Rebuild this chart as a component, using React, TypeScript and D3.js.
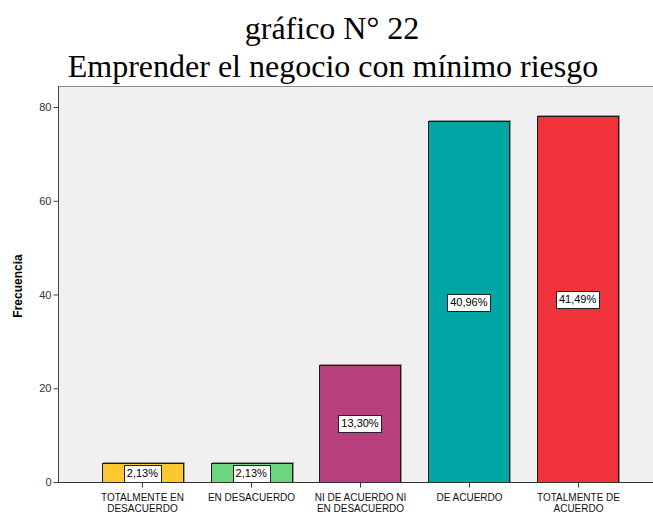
import * as d3 from 'd3';
import { useEffect, useRef } from 'react';

// data
const categories = [
  ['TOTALMENTE EN', 'DESACUERDO'],
  ['EN DESACUERDO'],
  ['NI DE ACUERDO NI', 'EN DESACUERDO'],
  ['DE ACUERDO'],
  ['TOTALMENTE DE', 'ACUERDO'],
];
const frecuencia = [4, 4, 25, 77, 78];
const porcentajes = ['2,13%', '2,13%', '13,30%', '40,96%', '41,49%'];
const colores = ['#fdc82f', '#6bd67d', '#b8407e', '#00a6a3', '#f0333b'];
const yTicks = [0, 20, 40, 60, 80];

export default function App() {
  const svgRef = useRef<SVGSVGElement>(null);

  useEffect(() => {
    const w = 653;
    const h = 514;
    const svg = d3.select(svgRef.current);
    svg.selectAll('*').remove();
    svg.attr('width', w).attr('height', h).style('display', 'block');

    const left = 58, right = 653, top = 86, bottom = 482;

    // titles
    svg.append('text')
      .attr('x', 332).attr('y', 39)
      .attr('text-anchor', 'middle')
      .style('font', "32px 'Liberation Serif', 'Times New Roman', serif")
      .text('gráfico N° 22');
    svg.append('text')
      .attr('x', 333).attr('y', 77)
      .attr('text-anchor', 'middle')
      .style('font', "32px 'Liberation Serif', 'Times New Roman', serif")
      .text('Emprender el negocio con mínimo riesgo');

    // plot background
    svg.append('rect')
      .attr('x', left).attr('y', top)
      .attr('width', right - left).attr('height', bottom - top)
      .attr('fill', '#f0f0f0');
    svg.append('line')
      .attr('x1', left).attr('x2', right).attr('y1', top + 0.5).attr('y2', top + 0.5)
      .attr('stroke', '#8a8a8a');

    const xScale = d3.scaleBand<number>()
      .domain(d3.range(categories.length))
      .range([88, 632])
      .paddingInner(0.255)
      .paddingOuter(0.1275);

    const yScale = d3.scaleLinear()
      .domain([0, 80])
      .range([bottom, 107]);

    // bars with slight shadow
    const g = svg.append('g');
    g.selectAll('rect.shadow')
      .data(frecuencia)
      .enter().append('rect')
      .attr('class', 'shadow')
      .attr('x', (_, i) => Math.round(xScale(i)!) + 1.5)
      .attr('y', d => Math.round(yScale(d)) - 0.5)
      .attr('width', Math.round(xScale.bandwidth()))
      .attr('height', d => Math.round(yScale(0)) - Math.round(yScale(d)))
      .attr('fill', 'none')
      .attr('stroke', '#9a9a9a')
      .attr('stroke-width', 1);
    g.selectAll('rect.bar')
      .data(frecuencia)
      .enter().append('rect')
      .attr('class', 'bar')
      .attr('x', (_, i) => Math.round(xScale(i)!) + 0.5)
      .attr('y', d => Math.round(yScale(d)) + 0.5)
      .attr('width', Math.round(xScale.bandwidth()))
      .attr('height', d => Math.round(yScale(0)) - Math.round(yScale(d)))
      .attr('fill', (_, i) => colores[i])
      .attr('stroke', '#1a1a1a')
      .attr('stroke-width', 1);

    // percentage labels
    const lab = svg.append('g');
    frecuencia.forEach((d, i) => {
      const cx = xScale(i)! + xScale.bandwidth() / 2;
      const cy = yScale(d / 2);
      const t = lab.append('text')
        .attr('x', cx).attr('y', cy + 4)
        .attr('text-anchor', 'middle')
        .style('font', "11px 'Liberation Sans', Arial, sans-serif")
        .attr('fill', '#000')
        .text(porcentajes[i]);
      const bw = (t.node() as SVGTextElement).getComputedTextLength() + 6;
      lab.insert('rect', 'text')
        .attr('x', Math.round(cx - bw / 2) + 0.5)
        .attr('y', Math.round(cy - 8) + 0.5)
        .attr('width', Math.round(bw))
        .attr('height', 17)
        .attr('fill', '#fff')
        .attr('stroke', '#222');
      lab.append(() => t.node());
    });

    // y axis
    const yAxis = d3.axisLeft(yScale).tickValues(yTicks).tickSize(5).tickPadding(2);
    const ya = svg.append('g')
      .attr('transform', `translate(${left + 0.5},0)`)
      .call(yAxis);
    ya.select('.domain').attr('d', `M0,${top}V${bottom}`).attr('stroke', '#444');
    ya.selectAll('.tick line').attr('stroke', '#444');
    ya.selectAll('.tick text')
      .style('font', "11px 'Liberation Sans', Arial, sans-serif")
      .attr('fill', '#333');

    // x axis
    const xa = svg.append('g').attr('transform', `translate(0,${bottom + 0.5})`);
    xa.append('line')
      .attr('x1', left).attr('x2', right)
      .attr('stroke', '#333');
    categories.forEach((lines, i) => {
      const cx = Math.round(xScale(i)! + xScale.bandwidth() / 2) + 0.5;
      xa.append('line')
        .attr('x1', cx).attr('x2', cx).attr('y1', 0).attr('y2', 5)
        .attr('stroke', '#333');
      lines.forEach((l, j) => {
        xa.append('text')
          .attr('x', cx).attr('y', 18.5 + j * 11)
          .attr('text-anchor', 'middle')
          .style('font', "10px 'Liberation Sans', Arial, sans-serif")
          .attr('fill', '#111')
          .text(l);
      });
    });

    // y label
    svg.append('text')
      .attr('transform', `translate(22,${(top + bottom) / 2 + 2}) rotate(-90)`)
      .attr('text-anchor', 'middle')
      .style('font', "bold 12px 'Liberation Sans', Arial, sans-serif")
      .text('Frecuencia');
  }, []);

  return (
    <div style={{ position: 'absolute', left: 0, top: 0 }}>
      <svg ref={svgRef}></svg>
    </div>
  );
}
